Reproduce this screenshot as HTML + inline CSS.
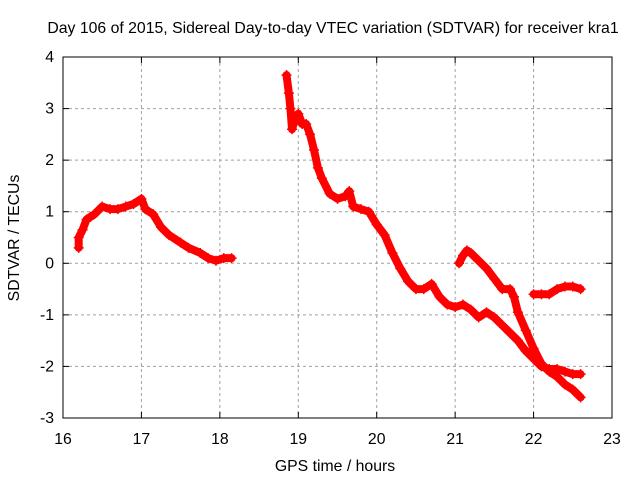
<!DOCTYPE html>
<html><head><meta charset="utf-8"><style>
body{margin:0;background:#fff}
svg text{font-family:"Liberation Sans",sans-serif;font-size:15.8px;fill:#000}
</style></head><body>
<svg width="640" height="480" id="chart">
<text x="333" y="33" text-anchor="middle">Day 106 of 2015, Sidereal Day-to-day VTEC variation (SDTVAR) for receiver kra1</text>
<text x="335" y="471" text-anchor="middle">GPS time / hours</text>
<text transform="translate(19,238) rotate(-90)" text-anchor="middle">SDTVAR / TECUs</text>
<g id="grid"></g>
<g id="marks"></g>
<rect x="63" y="57" width="549" height="361" fill="none" stroke="#000" stroke-width="1"/>
</svg>
<script>
const xTicks=[16,17,18,19,20,21,22,23];
const yTicks=[-3,-2,-1,0,1,2,3,4];
const segA=[[16.2,0.3],[16.2,0.5],[16.25,0.65],[16.3,0.85],[16.35,0.9],[16.4,0.95],[16.5,1.1],[16.6,1.05],[16.7,1.05],[16.8,1.1],[16.9,1.15],[17.0,1.25],[17.05,1.05],[17.15,0.95],[17.25,0.7],[17.35,0.55],[17.5,0.4],[17.6,0.3],[17.75,0.2],[17.85,0.1],[17.95,0.05],[18.05,0.1],[18.15,0.1]];
const segB=[[18.85,3.65],[18.88,3.3],[18.9,3.0],[18.92,2.6],[18.97,2.85],[19.0,2.9],[19.05,2.7],[19.1,2.7],[19.15,2.5],[19.2,2.2],[19.25,1.85],[19.3,1.65],[19.4,1.35],[19.5,1.25],[19.6,1.3],[19.65,1.4],[19.7,1.1],[19.8,1.05],[19.9,1.0],[20.0,0.75],[20.1,0.55],[20.2,0.2],[20.3,-0.1],[20.4,-0.35],[20.5,-0.5],[20.6,-0.5],[20.7,-0.4],[20.8,-0.65],[20.9,-0.8],[21.0,-0.85],[21.1,-0.8],[21.2,-0.9],[21.3,-1.05],[21.4,-0.95],[21.5,-1.05],[21.6,-1.2],[21.7,-1.35],[21.8,-1.5],[21.9,-1.7],[22.0,-1.85],[22.1,-2.0],[22.2,-2.05],[22.3,-2.05],[22.4,-2.1],[22.5,-2.15],[22.6,-2.15]];
const segC=[[21.05,0.0],[21.1,0.15],[21.15,0.25],[21.2,0.2],[21.3,0.05],[21.4,-0.1],[21.5,-0.3],[21.6,-0.5],[21.7,-0.5],[21.75,-0.65],[21.8,-0.95],[21.9,-1.3],[22.0,-1.65],[22.1,-1.95],[22.2,-2.1],[22.3,-2.2],[22.4,-2.35],[22.5,-2.45],[22.6,-2.6]];
const segD=[[22.0,-0.6],[22.1,-0.6],[22.2,-0.6],[22.3,-0.5],[22.4,-0.45],[22.5,-0.45],[22.6,-0.5]];
const X0=63,X1=612,Y0=418,Y1=57;
const sx=v=>X0+(v-16)/7*(X1-X0);
const sy=v=>Y0-(v+3)/7*(Y0-Y1);
const NS='http://www.w3.org/2000/svg';
const grid=document.getElementById('grid'),marks=document.getElementById('marks');
function mk(tag,at,parent){const e=document.createElementNS(NS,tag);for(const k in at)e.setAttribute(k,at[k]);parent.appendChild(e);return e;}
xTicks.forEach(t=>{const x=sx(t);
 if(t>16&&t<23){const l=mk('line',{x1:x,x2:x,y1:Y1,y2:Y0,stroke:'#a0a0a0','stroke-dasharray':'3,3'},grid);
 
 }
 mk('line',{x1:x,x2:x,y1:Y0,y2:Y0-6,stroke:'#000'},grid);
 mk('line',{x1:x,x2:x,y1:Y1,y2:Y1+6,stroke:'#000'},grid);
 const tx=mk('text',{x:x,y:Y0+26,'text-anchor':'middle'},grid);tx.textContent=t;
 
 });
yTicks.forEach(t=>{const y=sy(t);
 if(t>-3&&t<4){const l=mk('line',{x1:X0,x2:X1,y1:y,y2:y,stroke:'#a0a0a0','stroke-dasharray':'3,3'},grid);
 
 }
 mk('line',{x1:X0,x2:X0+6,y1:y,y2:y,stroke:'#000'},grid);
 mk('line',{x1:X1,x2:X1-6,y1:y,y2:y,stroke:'#000'},grid);
 const tx=mk('text',{x:X0-9,y:y+5,'text-anchor':'end'},grid);tx.textContent=t;
 
 });
[segA,segB,segC,segD].forEach((s,i)=>{
 const pl=mk('polyline',{points:s.map(p=>sx(p[0])+','+sy(p[1])).join(' '),fill:'none',stroke:'#ff0000','stroke-width':8,'stroke-linejoin':'round','stroke-linecap':'round'},marks);
 
 
 s.forEach(p=>{const x=sx(p[0]),y=sy(p[1]);
  const g=mk('path',{d:`M${x-5},${y}H${x+5}M${x},${y-5}V${y+5}`,stroke:'#ff0000','stroke-width':1.5},marks);
  
  });
});
</script>
</body></html>
